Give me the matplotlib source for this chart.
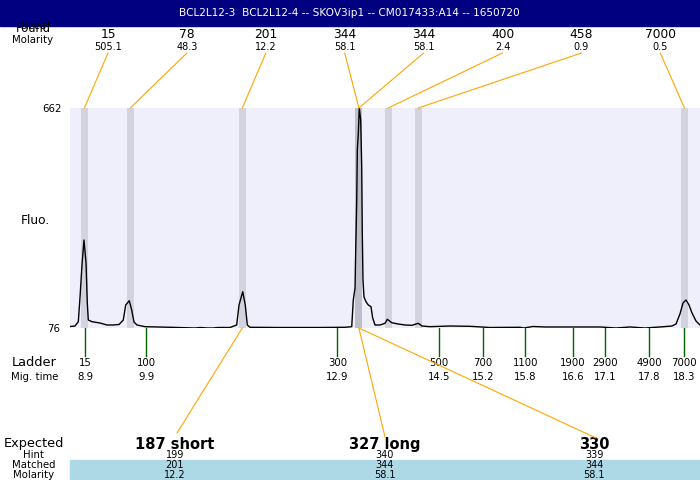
import matplotlib
matplotlib.use("Agg")
import matplotlib.pyplot as plt
from matplotlib.patches import Rectangle, ConnectionPatch
from matplotlib import transforms

# ---------------- data ----------------
title = "BCL2L12-3  BCL2L12-4 -- SKOV3ip1 -- CM017433:A14 -- 1650720"

trace_time = [8.665, 8.743, 8.795, 8.822, 8.853, 8.884, 8.916, 8.936, 8.952, 9.010,
              9.135, 9.245, 9.340, 9.434, 9.501, 9.539, 9.595, 9.633, 9.669, 9.716,
              9.842, 10.234, 10.627, 10.705, 10.831, 10.909, 10.988, 11.176, 11.281, 11.318,
              11.376, 11.416, 11.448, 11.490, 11.961, 12.589, 12.982, 13.087, 13.112, 13.139,
              13.150, 13.166, 13.175, 13.191, 13.206, 13.228, 13.244, 13.253, 13.264, 13.280,
              13.311, 13.347, 13.390, 13.416, 13.453, 13.531, 13.610, 13.646, 13.715, 13.814,
              13.924, 14.033, 14.132, 14.190, 14.316, 14.630, 14.944, 15.258, 15.729, 15.792,
              15.855, 15.933, 16.121, 16.357, 16.985, 17.236, 17.456, 17.691, 17.927, 18.115,
              18.178, 18.240, 18.288, 18.335, 18.382, 18.429, 18.492, 18.555]
trace_fluo = [80.0, 81.3, 92.8, 158.6, 243.8, 310.4, 249.1, 142.6, 97.3, 92.8,
              89.3, 84.0, 84.0, 85.3, 97.3, 137.3, 148.7, 124.0, 92.0, 84.0,
              79.5, 77.9, 76.0, 77.3, 76.0, 76.0, 77.3, 77.3, 84.0, 137.3,
              172.7, 137.3, 84.0, 77.9, 77.3, 77.3, 77.9, 79.5, 150.6, 182.5,
              283.8, 416.9, 550.1, 595.4, 662.0, 630.0, 504.8, 329.0, 203.9, 158.6,
              146.1, 137.3, 132.7, 102.6, 84.0, 84.0, 88.5, 99.2, 90.1, 86.7,
              84.0, 83.2, 88.5, 81.3, 79.5, 81.3, 80.5, 77.3, 77.9, 76.0,
              77.9, 80.0, 78.7, 78.7, 78.7, 76.0, 78.7, 76.0, 78.7, 81.3,
              86.7, 113.3, 142.6, 150.6, 137.3, 116.0, 94.6, 84.0]

fluo_min, fluo_max = 76, 662

found_size = ["15", "78", "201", "344", "344", "400", "458", "7000"]
found_molarity = ["505.1", "48.3", "12.2", "58.1", "58.1", "2.4", "0.9", "0.5"]
found_time = [8.89, 9.61, 11.37, 13.20, 13.20, 13.66, 14.13, 18.31]

ladder_size = ["15", "100", "300", "500", "700", "1100", "1900", "2900", "4900", "7000"]
ladder_time = [8.90, 9.86, 12.86, 14.46, 15.15, 15.81, 16.56, 17.06, 17.76, 18.30]

expected = ["187 short", "327 long", "330"]
hint = ["199", "340", "339"]
matched = ["201", "344", "344"]
matched_molarity = ["12.2", "58.1", "58.1"]
matched_time = [11.37, 13.20, 13.20]

# ---------------- layout ----------------
W, H = 700, 480
fig = plt.figure(figsize=(7, 4.8), dpi=100)
fig.patch.set_facecolor("white")

# pixel overlay (y downward)
ov = fig.add_axes([0, 0, 1, 1])
ov.set_xlim(0, W)
ov.set_ylim(H, 0)
ov.axis("off")

PX0, PX1, PY0, PY1 = 70, 700, 108, 328
ax = fig.add_axes([PX0 / W, (H - PY1) / H, (PX1 - PX0) / W, (PY1 - PY0) / H])
px_per_s = 63.7
ax.set_xlim(8.9 - (85 - PX0) / px_per_s, 8.9 + (PX1 - 85) / px_per_s)
ax.set_ylim(fluo_min, fluo_max)
ax.set_facecolor("#EFEFFC")
for s in ax.spines.values():
    s.set_visible(False)
ax.set_xticks([])
ax.set_yticks([])

# blended: x in data (time), y in pixels
bl = transforms.blended_transform_factory(ax.transData, ov.transData)

# title bar
ov.add_patch(Rectangle((0, 0), W, 26, color="#000080", zorder=0))
ov.text(349, 13.5, title, color="white", fontsize=7.6, ha="center", va="center")

# bands
for t in found_time:
    ax.axvspan(t - 0.055, t + 0.055, color=(0.5, 0.5, 0.56), alpha=0.25, lw=0, zorder=1)

ax.plot(trace_time, trace_fluo, color="black", lw=1.0, zorder=3)

# y labels
ov.text(62, 109, str(fluo_max), fontsize=7.3, ha="right", va="center")
ov.text(60, 329, str(fluo_min), fontsize=7.3, ha="right", va="center")
ov.text(35, 220, "Fluo.", fontsize=8.8, ha="center", va="center")

# found row
ov.text(33, 26, "Sized", fontsize=7, ha="center", va="center")
ov.text(33, 29, "Found", fontsize=8.3, ha="center", va="center")
ov.text(33, 40, "Molarity", fontsize=7.3, ha="center", va="center")
label_x0, label_dx = 108, 78.9
for i, (sz, mol, t) in enumerate(zip(found_size, found_molarity, found_time)):
    lx = label_x0 + i * label_dx
    ov.text(lx, 34, sz, fontsize=8.8, ha="center", va="center")
    ov.text(lx, 46.5, mol, fontsize=7.0, ha="center", va="center")
    con = ConnectionPatch(xyA=(lx, 53), coordsA=ov.transData,
                          xyB=(t, fluo_max), coordsB=ax.transData,
                          color="orange", lw=0.8, zorder=5)
    fig.add_artist(con)

# ladder
ov.text(34, 363, "Ladder", fontsize=9.4, ha="center", va="center")
ov.text(35, 377, "Mig. time", fontsize=7.3, ha="center", va="center")
for sz, t in zip(ladder_size, ladder_time):
    ov.plot([t, t], [PY1, 356], transform=bl, color="#006400", lw=1.0)
    ov.text(t, 363, sz, transform=bl, fontsize=7.3, ha="center", va="center")
    ov.text(t, 377, f"{t:.1f}", transform=bl, fontsize=7.3, ha="center", va="center")

# expected section
ov.add_patch(Rectangle((PX0, 460), PX1 - PX0, 20, color="#ADD8E6", zorder=0))
ov.text(34, 443, "Expected", fontsize=9.3, ha="center", va="center")
ov.text(34, 455, "Hint", fontsize=7.3, ha="center", va="center")
ov.text(34, 465, "Matched", fontsize=7.3, ha="center", va="center")
ov.text(34, 475, "Molarity", fontsize=7.3, ha="center", va="center")
exp_x = [175, 385, 594]
line_end = [(177, 433), (385, 437), (596, 438)]
for ex, e, h, m, mm, t, le in zip(exp_x, expected, hint, matched, matched_molarity,
                                   matched_time, line_end):
    ov.text(ex, 444.5, e, fontsize=10.5, fontweight="bold", ha="center", va="center")
    ov.text(ex, 455, h, fontsize=7.0, ha="center", va="center")
    ov.text(ex, 465, m, fontsize=7.0, ha="center", va="center")
    ov.text(ex, 475, mm, fontsize=7.0, ha="center", va="center")
    con = ConnectionPatch(xyA=(t, fluo_min), coordsA=ax.transData,
                          xyB=le, coordsB=ov.transData,
                          color="orange", lw=0.8, zorder=5)
    fig.add_artist(con)

fig.savefig("out.png", dpi=100)
